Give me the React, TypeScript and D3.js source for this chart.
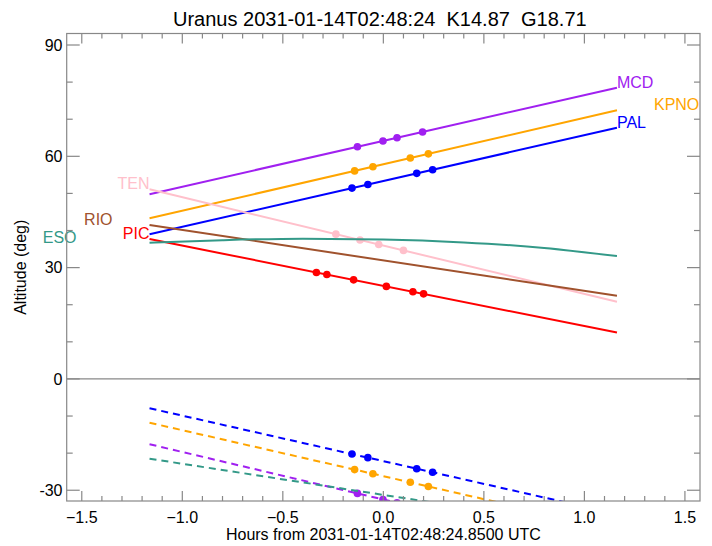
// App.tsx
import React, { useRef, useEffect, FC } from 'react';
import * as d3 from 'd3';

// Chart data
const TITLE = 'Uranus 2031-01-14T02:48:24  K14.87  G18.71';
const X_LABEL = 'Hours from 2031-01-14T02:48:24.8500 UTC';
const Y_LABEL = 'Altitude (deg)';

const xTicks = [-1.5, -1.0, -0.5, 0.0, 0.5, 1.0, 1.5];
const yTicks = [-30, 0, 30, 60, 90];

const sites = ['MCD', 'KPNO', 'PAL', 'TEN', 'RIO', 'PIC', 'ESO'];
const siteColors = ['#a020f0', '#ffa500', '#0000ff', '#ffc0cb', '#a0522d', '#ff0000', '#339988'];

// target altitude
const straightHours = [-1.163, 1.162];
const mcdAlt = [49.8, 78.5];
const kpnoAlt = [43.3, 72.4];
const palAlt = [39.0, 67.7];
const tenAlt = [51.1, 20.8];
const rioAlt = [41.5, 22.4];
const picAlt = [37.7, 12.5];
const esoHours = [-1.163, -0.8, -0.4, 0.0, 0.4, 0.8, 1.162];
const esoAlt = [36.7, 37.4, 37.8, 37.6, 36.8, 35.3, 33.1];

// sun altitude (dashed)
const sunHours = [-1.163, 1.162];
const mcdSun = [-17.6, -47.4];
const kpnoSun = [-11.8, -40.6];
const palSun = [-7.9, -36.4];
const esoSun = [-21.5, -41.0];

// observation times (hours)
const mcdObs = [-0.129, -0.002, 0.068, 0.195];
const kpnoObs = [-0.143, -0.052, 0.134, 0.224];
const palObs = [-0.156, -0.077, 0.166, 0.245];
const tenObs = [-0.236, -0.116, -0.023, 0.1];
const rioObs: number[] = [];
const picObs = [-0.333, -0.281, -0.148, 0.015, 0.147, 0.2];
const esoObs: number[] = [];

interface Series {
  name: string;
  color: string;
  hours: number[];
  alt: number[];
  sunHours: number[] | null;
  sun: number[] | null;
  obs: number[];
  side: 'left' | 'right';
  labelShift: number;
}

const series: Series[] = [
  { name: sites[0], color: siteColors[0], hours: straightHours, alt: mcdAlt, sunHours, sun: mcdSun, obs: mcdObs, side: 'right', labelShift: 0 },
  { name: sites[1], color: siteColors[1], hours: straightHours, alt: kpnoAlt, sunHours, sun: kpnoSun, obs: kpnoObs, side: 'right', labelShift: 37 },
  { name: sites[2], color: siteColors[2], hours: straightHours, alt: palAlt, sunHours, sun: palSun, obs: palObs, side: 'right', labelShift: 0 },
  { name: sites[3], color: siteColors[3], hours: straightHours, alt: tenAlt, sunHours: null, sun: null, obs: tenObs, side: 'left', labelShift: 0 },
  { name: sites[4], color: siteColors[4], hours: straightHours, alt: rioAlt, sunHours: null, sun: null, obs: rioObs, side: 'left', labelShift: -37 },
  { name: sites[5], color: siteColors[5], hours: straightHours, alt: picAlt, sunHours: null, sun: null, obs: picObs, side: 'left', labelShift: 0 },
  { name: sites[6], color: siteColors[6], hours: esoHours, alt: esoAlt, sunHours, sun: esoSun, obs: esoObs, side: 'left', labelShift: -73 },
];

const W = 712;
const H = 546;
const FONT = '"Liberation Sans", Arial, Helvetica, sans-serif';
const AXIS = '#888888';

const AltitudeChart: FC = () => {
  const svgRef = useRef<SVGSVGElement | null>(null);

  useEffect(() => {
    const svg = d3.select(svgRef.current);
    svg.selectAll('*').remove();

    const plot = { left: 66.7, right: 700, top: 33.5, bottom: 501 };
    const x = d3.scaleLinear().domain([-1.575, 1.575]).range([plot.left, plot.right]);
    const y = d3.scaleLinear().domain([-32.9, 93.1]).range([plot.bottom, plot.top]);

    svg.append('defs').append('clipPath').attr('id', 'plotClip')
      .append('rect')
      .attr('x', plot.left).attr('y', plot.top)
      .attr('width', plot.right - plot.left).attr('height', plot.bottom - plot.top);

    // zero line
    svg.append('line')
      .attr('x1', plot.left).attr('x2', plot.right)
      .attr('y1', y(0)).attr('y2', y(0))
      .attr('stroke', AXIS).attr('stroke-width', 1.2);

    const g = svg.append('g').attr('clip-path', 'url(#plotClip)');
    const line = (hrs: number[], curve: d3.CurveFactory) =>
      d3.line<number>().x((_, i) => x(hrs[i])).y((d) => y(d)).curve(curve);

    series.forEach((s) => {
      const curve = s.hours.length > 2 ? d3.curveMonotoneX : d3.curveLinear;
      const altAt = d3.scaleLinear().domain(s.hours).range(s.alt);

      if (s.sun && s.sunHours) {
        const sunAt = d3.scaleLinear().domain(s.sunHours).range(s.sun);
        g.append('path')
          .attr('d', line(s.sunHours, d3.curveLinear)(s.sun))
          .attr('fill', 'none').attr('stroke', s.color)
          .attr('stroke-width', 2).attr('stroke-dasharray', '7,5');
        g.selectAll(null).data(s.obs).join('circle')
          .attr('cx', (d) => x(d)).attr('cy', (d) => y(sunAt(d)))
          .attr('r', 3.8).attr('fill', s.color);
      }

      g.append('path')
        .attr('d', line(s.hours, curve)(s.alt))
        .attr('fill', 'none').attr('stroke', s.color).attr('stroke-width', 2);
      g.selectAll(null).data(s.obs).join('circle')
        .attr('cx', (d) => x(d)).attr('cy', (d) => y(altAt(d)))
        .attr('r', 3.8).attr('fill', s.color);

      const n = s.hours.length - 1;
      const lx = s.side === 'right' ? x(s.hours[n]) : x(s.hours[0]);
      const ly = s.side === 'right' ? y(s.alt[n]) : y(s.alt[0]);
      svg.append('text')
        .attr('x', lx + s.labelShift).attr('y', ly)
        .attr('text-anchor', s.side === 'right' ? 'start' : 'end')
        .attr('fill', s.color).attr('font-size', 16).attr('font-family', FONT)
        .text(s.name);
    });

    // frame
    svg.append('rect')
      .attr('x', plot.left).attr('y', plot.top)
      .attr('width', plot.right - plot.left).attr('height', plot.bottom - plot.top)
      .attr('fill', 'none').attr('stroke', AXIS).attr('stroke-width', 1.2);

    // ticks on all four sides
    const xMinor = d3.range(-15, 16).map((v) => v / 10);
    const yMinor = d3.range(-30, 91, 10);
    const ticks = svg.append('g').attr('stroke', AXIS).attr('stroke-width', 1.2);
    xMinor.forEach((v) => {
      const major = xTicks.some((t) => Math.abs(t - v) < 1e-6);
      const len = major ? 10 : 5;
      ticks.append('line').attr('x1', x(v)).attr('x2', x(v)).attr('y1', plot.bottom).attr('y2', plot.bottom - len);
      ticks.append('line').attr('x1', x(v)).attr('x2', x(v)).attr('y1', plot.top).attr('y2', plot.top + len);
    });
    yMinor.forEach((v) => {
      const major = yTicks.includes(v);
      const len = major ? 13 : 6;
      ticks.append('line').attr('x1', plot.left).attr('x2', plot.left + len).attr('y1', y(v)).attr('y2', y(v));
      ticks.append('line').attr('x1', plot.right).attr('x2', plot.right - len).attr('y1', y(v)).attr('y2', y(v));
    });

    const labels = svg.append('g').attr('font-family', FONT).attr('font-size', 16).attr('fill', '#000');
    xTicks.forEach((v) => {
      labels.append('text').attr('x', x(v)).attr('y', 522.5).attr('text-anchor', 'middle').text(d3.format('.1f')(v));
    });
    yTicks.forEach((v) => {
      labels.append('text').attr('x', 62.5).attr('y', y(v)).attr('dy', '0.35em').attr('text-anchor', 'end').text(String(v));
    });
    labels.append('text').attr('x', (plot.left + plot.right) / 2).attr('y', 539.5)
      .attr('text-anchor', 'middle').text(X_LABEL);
    labels.append('text')
      .attr('transform', `translate(26,${(plot.top + plot.bottom) / 2}) rotate(-90)`)
      .attr('text-anchor', 'middle').text(Y_LABEL);

    svg.append('text')
      .attr('x', 173).attr('y', 26)
      .attr('font-family', FONT).attr('font-size', 20)
      .attr('xml:space', 'preserve').style('white-space', 'pre')
      .text(TITLE);
  }, []);

  return (
    <svg
      ref={svgRef}
      width={W}
      height={H}
      viewBox={`0 0 ${W} ${H}`}
      style={{ position: 'absolute', left: 0, top: 0, background: '#fff' }}
    />
  );
};

export default function App() {
  return <AltitudeChart />;
}
